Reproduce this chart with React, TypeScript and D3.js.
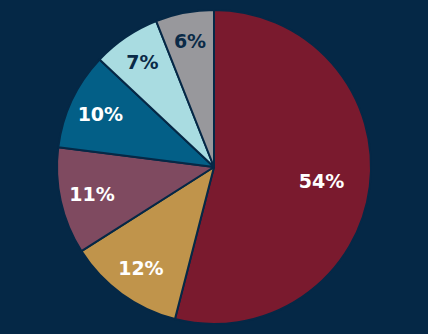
import React from "react";
import * as d3 from "d3";

const categories = ["A", "B", "C", "D", "E", "F"];
const values = [54, 12, 11, 10, 7, 6];
const labels = ["54%", "12%", "11%", "10%", "7%", "6%"];
const colors = ["#7a1a2e", "#c0944b", "#7f4a60", "#035f87", "#a9dce1", "#98989c"];
const labelColors = ["#ffffff", "#ffffff", "#ffffff", "#ffffff", "#0a2a47", "#0a2a47"];

const W = 428;
const H = 334;
const BG = "#052846";

export default function App() {
  const cx = 214;
  const cy = 167;
  const R = 157;
  const data = categories.map((c, i) => ({ c, v: values[i], i }));
  const pie = d3.pie<any>().value((d) => d.v).sort(null);
  const arcs = pie(data);
  const arc = d3.arc<any>().innerRadius(0).outerRadius(R);
  return (
    <svg width={W} height={H} style={{ position: "fixed", left: 0, top: 0, background: BG }}>
      <rect width={W} height={H} fill={BG} />
      <g transform={`translate(${cx},${cy})`}>
        {arcs.map((a, i) => (
          <path key={i} d={arc(a) as string} fill={colors[i]} stroke={BG} strokeWidth={2} strokeLinejoin="round" />
        ))}
        {arcs.map((a, i) => {
          const mid = (a.startAngle + a.endAngle) / 2;
          const lr = a.data.v > 50 ? R * 0.69 : R * (0.84 - 0.004 * a.data.v);
          const x = Math.sin(mid) * lr;
          const y = -Math.cos(mid) * lr;
          return (
            <text
              key={"t" + i}
              x={x}
              y={y}
              textAnchor="middle"
              dominantBaseline="central"
              fill={labelColors[i]}
              fontFamily="'DejaVu Sans', sans-serif"
              fontWeight={700}
              fontSize={19}
            >
              {labels[i]}
            </text>
          );
        })}
      </g>
    </svg>
  );
}
